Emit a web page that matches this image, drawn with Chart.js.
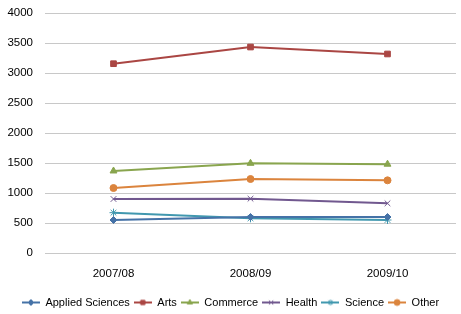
<!DOCTYPE html>
<html>
<head>
<meta charset="utf-8">
<script src="https://cdn.jsdelivr.net/npm/chart.js@4/dist/chart.umd.min.js"></script>
<style>
    html, body { margin: 0; padding: 0; background: #fff; }
    #wrap { width: 461px; height: 314px; }
</style>
</head>
<body>
<div id="wrap"><canvas id="chart"></canvas></div>
<script>
// Data
const years = ['2007/08', '2008/09', '2009/10'];
const appliedSciences = [550, 600, 600];
const arts = [3155, 3433, 3317];
const commerce = [1367, 1495, 1480];
const health = [900, 905, 828];
const science = [672, 578, 550];
const other = [1083, 1233, 1211];
const yTicks = [0, 500, 1000, 1500, 2000, 2500, 3000, 3500, 4000];

const FONT = '"Liberation Sans", Arial, sans-serif';

const series = [
    { label: 'Applied Sciences', data: appliedSciences, color: '#4572a7', style: 'rectRot', radius: 3.5 },
    { label: 'Arts', data: arts, color: '#aa4643', style: 'rect', radius: 4 },
    { label: 'Commerce', data: commerce, color: '#89a54e', style: 'triangle', radius: 4 },
    { label: 'Health', data: health, color: '#71588f', style: 'crossRot', radius: 4 },
    { label: 'Science', data: science, color: '#4198af', style: 'star', radius: 4 },
    { label: 'Other', data: other, color: '#db843d', style: 'circle', radius: 3.5 }
];

// small canvas with a line and the marker, used as legend symbol
function legendSymbol(s) {
    const c = document.createElement('canvas');
    c.width = 18;
    c.height = 10;
    const ctx = c.getContext('2d');
    ctx.strokeStyle = s.color;
    ctx.lineWidth = 2;
    ctx.beginPath();
    ctx.moveTo(0, 5);
    ctx.lineTo(18, 5);
    ctx.stroke();
    ctx.fillStyle = s.color;
    ctx.lineWidth = 1;
    Chart.helpers.drawPoint(ctx, { pointStyle: s.style, radius: 3, borderWidth: 1 }, 9, 5);
    return c;
}

new Chart(document.getElementById('chart'), {
    type: 'line',
    data: {
        labels: years,
        datasets: series.map((s) => {
            return {
                label: s.label,
                data: s.data,
                borderColor: s.color,
                backgroundColor: s.color,
                borderWidth: 2,
                pointStyle: s.style,
                pointRadius: s.radius,
                pointBorderWidth: 1,
                pointHoverRadius: s.radius,
                tension: 0
            };
        })
    },
    options: {
        responsive: true,
        maintainAspectRatio: false,
        animation: false,
        devicePixelRatio: 1,
        layout: {
            padding: { top: 0, left: 0, right: 0, bottom: -4 }
        },
        plugins: {
            tooltip: { enabled: false },
            legend: {
                position: 'bottom',
                labels: {
                    usePointStyle: true,
                    pointStyleWidth: 18,
                    padding: 4,
                    color: '#000',
                    font: { family: FONT, size: 11 },
                    generateLabels: (chart) => {
                        return series.map((s, i) => {
                            return {
                                text: s.label,
                                pointStyle: legendSymbol(s),
                                fillStyle: s.color,
                                strokeStyle: s.color,
                                lineWidth: 0,
                                hidden: false,
                                datasetIndex: i,
                                fontColor: '#000'
                            };
                        });
                    }
                }
            }
        },
        scales: {
            x: {
                offset: true,
                grid: { display: false },
                border: { display: false },
                ticks: {
                    color: '#000',
                    padding: 6,
                    font: { family: FONT, size: 11.5 }
                },
                afterFit: (axis) => {
                    axis.height = 40;
                    axis.paddingLeft = 0;
                    axis.paddingRight = 0;
                }
            },
            y: {
                min: 0,
                max: 4000,
                afterBuildTicks: (axis) => {
                    axis.ticks = yTicks.map((v) => ({ value: v }));
                },
                grid: {
                    color: '#c8c8c8',
                    lineWidth: 1,
                    drawTicks: false
                },
                border: { display: false },
                ticks: {
                    color: '#000',
                    padding: 12,
                    font: { family: FONT, size: 11.5 },
                    callback: (v) => String(v)
                },
                afterFit: (axis) => {
                    axis.width = 45;
                    axis.paddingTop = 13;
                }
            }
        }
    }
});
</script>
</body>
</html>
